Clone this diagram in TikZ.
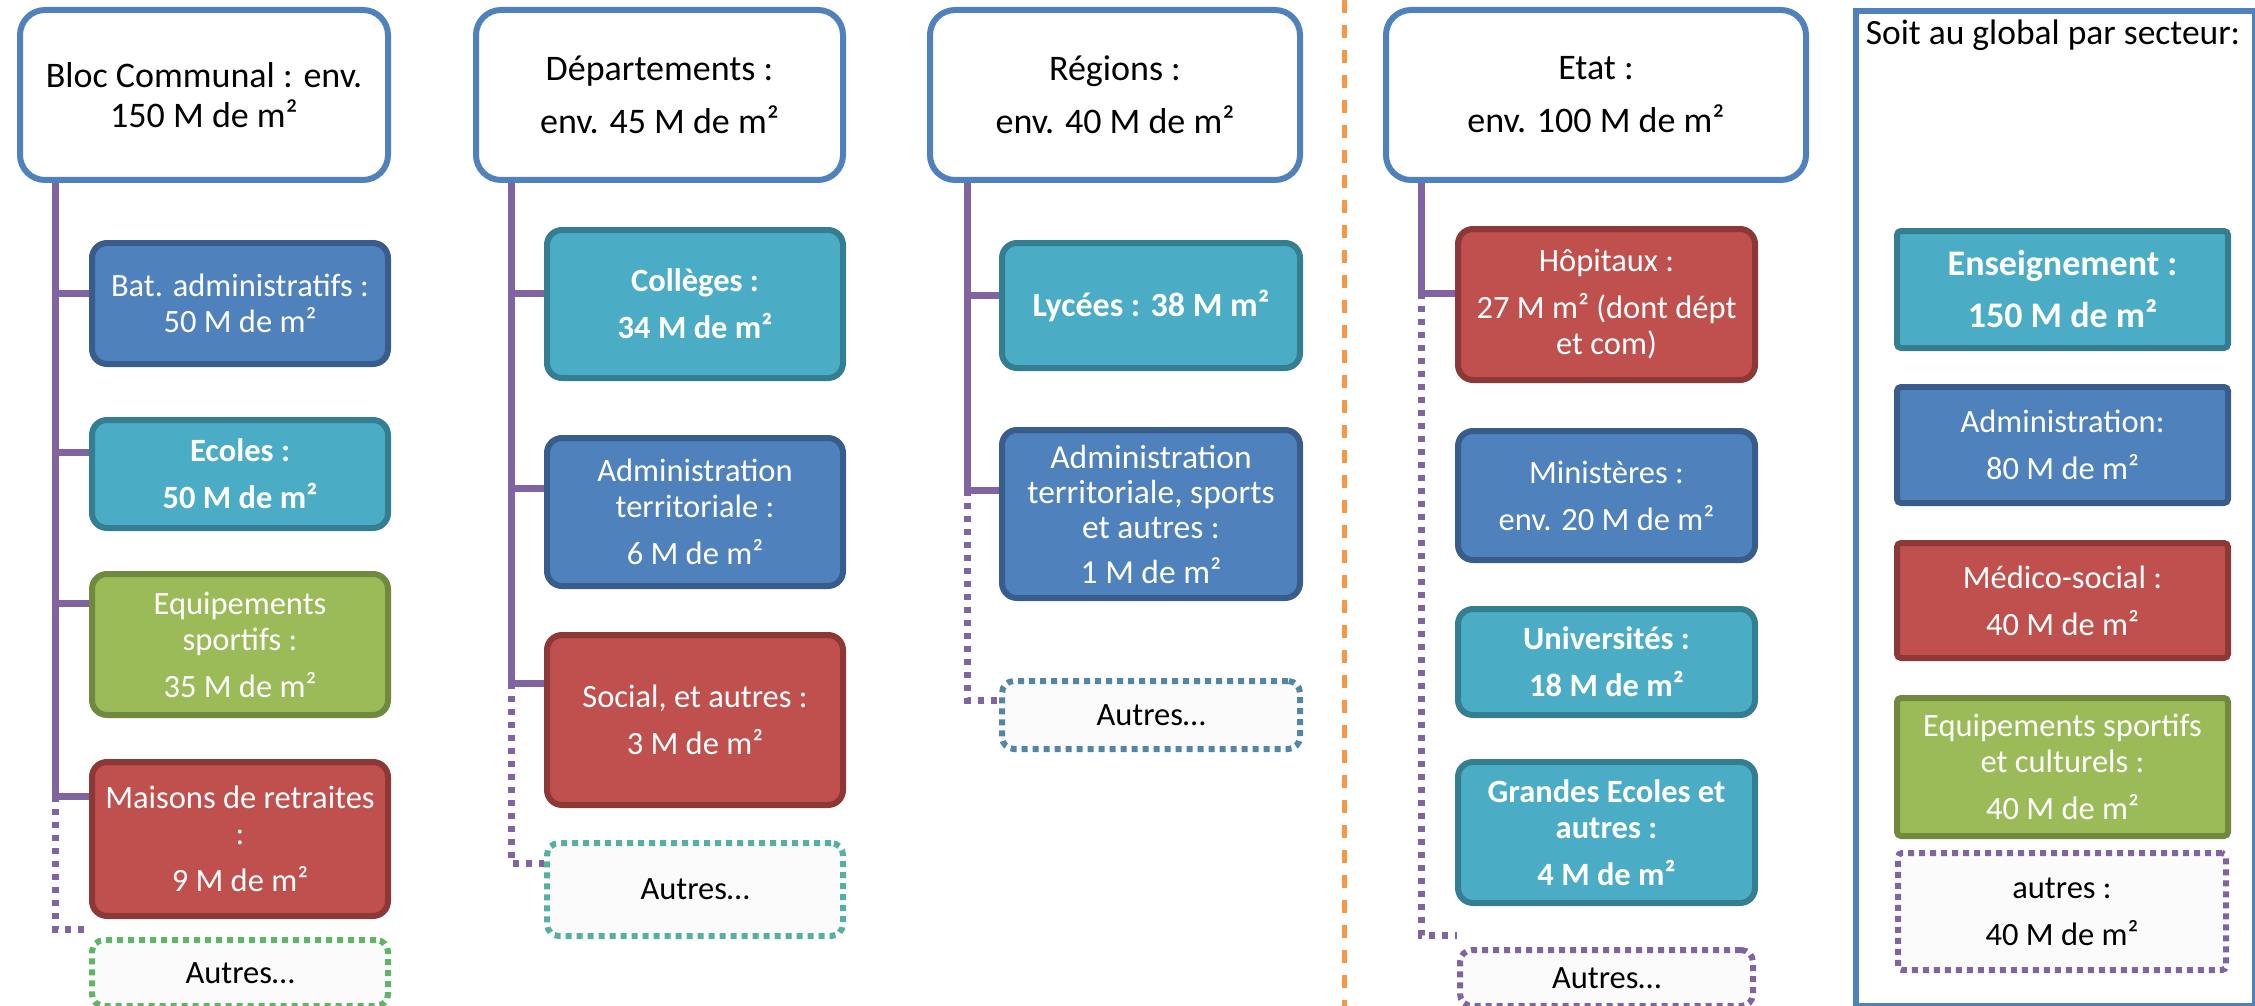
\documentclass[tikz,border=0pt]{standalone}
\usepackage{fontspec}
\setmainfont{Carlito}
\usetikzlibrary{calc}
\definecolor{hblue}{HTML}{4F81BD}
\definecolor{cblue}{HTML}{4F81BD}
\definecolor{cbluedk}{HTML}{385D8A}
\definecolor{cteal}{HTML}{4BACC6}
\definecolor{ctealdk}{HTML}{357D91}
\definecolor{cgreen}{HTML}{9BBB59}
\definecolor{cgreendk}{HTML}{71893F}
\definecolor{cred}{HTML}{C0504D}
\definecolor{creddk}{HTML}{8C3836}
\definecolor{cpurple}{HTML}{8064A2}
\definecolor{corange}{HTML}{F79646}
\definecolor{agreen}{HTML}{5DB565}
\definecolor{ateal}{HTML}{55B0A3}
\definecolor{asteel}{HTML}{5286A8}
\definecolor{afill}{HTML}{FBFBFB}
\begin{document}
\begin{tikzpicture}[x=1pt,y=-1pt,
  base/.style={anchor=north west, inner sep=0pt, align=center, line width=6pt},
  headbox/.style={base, draw=hblue, fill=white, rounded corners=25pt, font=\fontsize{36}{40}\selectfont},
  kid/.style={base, rounded corners=15pt, text=white, font=\fontsize{32.5}{36}\selectfont},
  kblue/.style={kid, fill=cblue, draw=cbluedk},
  kteal/.style={kid, fill=cteal, draw=ctealdk, font=\fontsize{32.5}{36}\selectfont\bfseries},
  kgreen/.style={kid, fill=cgreen, draw=cgreendk},
  kred/.style={kid, fill=cred, draw=creddk},
  autres/.style={base, fill=afill, rounded corners=12pt, dash pattern=on 6pt off 5pt, font=\fontsize{32.5}{36}\selectfont},
  conn/.style={draw=cpurple, line width=7pt},
  conndot/.style={draw=cpurple, line width=7pt, dash pattern=on 6pt off 7pt},
  sq/.style={rounded corners=4pt},
  sep/.style={draw=corange, line width=5pt, dash pattern=on 13pt off 12pt},
  outer/.style={draw=hblue, line width=6pt}
]
\useasboundingbox (0,0) rectangle (2255,1006);

% ---------- Column 1 : Bloc communal
\node[headbox, minimum width=368pt, minimum height=170pt] (h1) at (17,7) {Bloc Communal : env.\\150 M de m²};
\node[kblue, minimum width=296pt, minimum height=121pt] (b11) at (89,240) {Bat. administratifs :\\50 M de m²};
\node[kteal, minimum width=296pt, minimum height=108pt] (b12) at (89,417) {Ecoles :\\[11pt]50 M de m²};
\node[kgreen, minimum width=296pt, minimum height=141pt] (b13) at (89,571) {Equipements\\sportifs :\\[11pt]35 M de m²};
\node[kred, minimum width=296pt, minimum height=154pt] (b14) at (89,759) {Maisons de retraites\\:\\[11pt]9 M de m²};
\node[autres, draw=agreen, minimum width=296pt, minimum height=66pt] (a1) at (89,937) {Autres…};
\coordinate (t1) at ($(h1.south west)+(38,0)$);
\coordinate (k11) at ($(b11.north west)+(0,53)$);
\coordinate (k12) at ($(b12.north west)+(0,35)$);
\coordinate (k13) at ($(b13.north west)+(0,32)$);
\coordinate (k14) at ($(b14.north west)+(0,37)$);
\coordinate (e1) at ($(a1.north west)+(0,-8)$);
\draw[conn] (t1) |- (k11);
\draw[conn] (t1) |- (k12);
\draw[conn] (t1) |- (k13);
\draw[conn] (t1) |- (k14);
\draw[conndot] (t1 |- k14) |- (e1);

% ---------- Column 2 : Departements
\node[headbox, minimum width=367pt, minimum height=170pt] (h2) at (473,7) {Départements :\\[13pt]env. 45 M de m²};
\node[kteal, minimum width=296pt, minimum height=148pt] (b21) at (544,227) {Collèges :\\[11pt]34 M de m²};
\node[kblue, minimum width=296pt, minimum height=148pt] (b22) at (544,435) {Administration\\territoriale :\\[11pt]6 M de m²};
\node[kred, minimum width=296pt, minimum height=170pt] (b23) at (544,632) {Social, et autres :\\[11pt]3 M de m²};
\node[autres, draw=ateal, minimum width=296pt, minimum height=93pt] (a2) at (544,840) {Autres…};
\coordinate (t2) at ($(h2.south west)+(38,0)$);
\coordinate (k21) at ($(b21.north west)+(0,66)$);
\coordinate (k22) at ($(b22.north west)+(0,53)$);
\coordinate (k23) at ($(b23.north west)+(0,51)$);
\coordinate (e2) at ($(a2.north west)+(0,23)$);
\draw[conn] (t2) |- (k21);
\draw[conn] (t2) |- (k22);
\draw[conn] (t2) |- (k23);
\draw[conndot] (t2 |- k23) |- (e2);

% ---------- Column 3 : Regions
\node[headbox, minimum width=370pt, minimum height=170pt] (h3) at (927,7) {Régions :\\[13pt]env. 40 M de m²};
\node[kteal, font=\fontsize{34}{38}\selectfont\bfseries, minimum width=298pt, minimum height=125pt] (b31) at (999,240) {Lycées : 38 M m²};
\node[kblue, font=\fontsize{33.5}{35}\selectfont, minimum width=298pt, minimum height=168pt] (b32) at (999,427) {Administration\\territoriale, sports\\et autres :\\[10pt]1 M de m²};
\node[autres, draw=asteel, minimum width=298pt, minimum height=68pt] (a3) at (999,678) {Autres…};
\coordinate (t3) at ($(h3.south west)+(40,0)$);
\coordinate (k31) at ($(b31.north west)+(0,55)$);
\coordinate (k32) at ($(b32.north west)+(0,63)$);
\coordinate (e3) at ($(a3.north west)+(0,22)$);
\draw[conn] (t3) |- (k31);
\draw[conn] (t3) |- (k32);
\draw[conndot] (t3 |- k32) |- (e3);

% ---------- separator
\draw[sep] (1344,0) -- (1344,1006);

% ---------- Column 4 : Etat
\node[headbox, minimum width=420pt, minimum height=170pt] (h4) at (1383,7) {Etat :\\[13pt]env. 100 M de m²};
\node[kred, minimum width=297pt, minimum height=151pt] (b41) at (1455,226) {Hôpitaux :\\[11pt]27 M m² (dont dépt\\et com)};
\node[kblue, minimum width=297pt, minimum height=129pt] (b42) at (1455,428) {Ministères :\\[11pt]env. 20 M de m²};
\node[kteal, minimum width=297pt, minimum height=106pt] (b43) at (1455,606) {Universités :\\[11pt]18 M de m²};
\node[kteal, minimum width=297pt, minimum height=141pt] (b44) at (1455,759) {Grandes Ecoles et\\autres :\\[11pt]4 M de m²};
\node[autres, draw=cpurple, minimum width=293pt, minimum height=56pt] (a4) at (1457,947) {Autres…};
\coordinate (t4) at ($(h4.south west)+(38,0)$);
\coordinate (k41) at ($(b41.north west)+(0,67)$);
\coordinate (e4) at ($(a4.north west)+(0,-12)$);
\draw[conn] (t4) |- (k41);
\draw[conndot] (t4 |- k41) |- (e4);

% ---------- Column 5 : global par secteur
\node[outer, anchor=north west, minimum width=399pt, minimum height=995pt, inner sep=0pt] (g) at (1853,8) {};
\node[font=\fontsize{35.5}{40}\selectfont, inner sep=0pt] (gt) at (2053,35) {Soit au global par secteur:};
\node[kteal, sq, font=\fontsize{36}{52}\selectfont\bfseries, minimum width=331pt, minimum height=117pt] (s1) at (1894,228) {Enseignement :\\150 M de m²};
\node[kblue, sq, minimum width=331pt, minimum height=116pt] (s2) at (1894,384) {Administration:\\[11pt]80 M de m²};
\node[kred, sq, minimum width=331pt, minimum height=115pt] (s3) at (1894,540) {Médico-social :\\[11pt]40 M de m²};
\node[kgreen, sq, minimum width=331pt, minimum height=138pt] (s4) at (1894,695) {Equipements sportifs\\et culturels :\\[11pt]40 M de m²};
\node[autres, draw=cpurple, sq, minimum width=328pt, minimum height=117pt] (s5) at (1895,850) {autres :\\[11pt]40 M de m²};
\end{tikzpicture}
\end{document}
